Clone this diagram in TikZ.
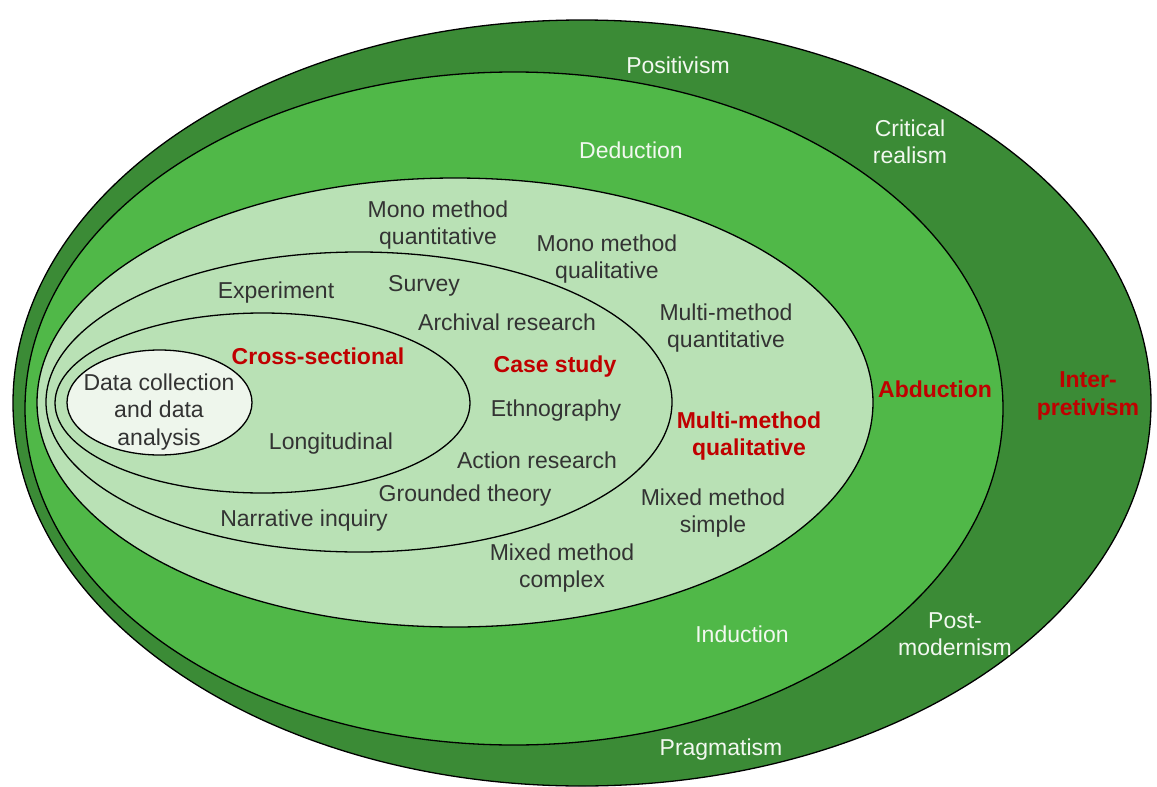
\documentclass[tikz,border=0pt]{standalone}
\usepackage{fontspec}
\setmainfont{Liberation Sans}
\usetikzlibrary{shapes.geometric}
\definecolor{gdark}{HTML}{3B8B36}
\definecolor{gmid}{HTML}{50B848}
\definecolor{glight}{HTML}{B9E1B5}
\definecolor{gpale}{HTML}{EEF6EC}
\definecolor{txtdark}{HTML}{333333}
\definecolor{txtwhite}{HTML}{F2F8F0}
\definecolor{txtred}{HTML}{C00000}
\tikzset{
  layer/.style={ellipse, draw=black, line width=1.3pt, inner sep=0pt},
  lbl/.style={font=\fontsize{23}{27.5}\selectfont, align=center, inner sep=0pt, text=txtdark, yshift=-3pt},
  wlbl/.style={lbl, text=txtwhite},
  rlbl/.style={lbl, text=txtred, font=\fontsize{23}{27.5}\selectfont\bfseries},
}
\begin{document}
\begin{tikzpicture}[x=1pt,y=-1pt]
\useasboundingbox (0,0) rectangle (1157,787);
\node[layer, fill=gdark, minimum width=1138pt, minimum height=766pt] (philo) at (582,403) {};
\node[layer, fill=gmid, minimum width=978pt, minimum height=673pt] (appr) at (514,408.5) {};
\node[layer, fill=glight, minimum width=836pt, minimum height=449pt] (choice) at (455,402.5) {};
\node[layer, fill=glight, minimum width=626pt, minimum height=300pt] (strat) at (359,402) {};
\node[layer, fill=glight, minimum width=415pt, minimum height=180pt] (time) at (262.5,403) {};
\node[layer, fill=gpale, minimum width=185pt, minimum height=105pt] (data) at (159.5,402.5) {};

\node[lbl] (t1) at (159,409) {Data collection\\and data\\analysis};
\node[wlbl] (t2) at (678,62) {Positivism};
\node[wlbl] (t3) at (910,139) {Critical\\realism};
\node[wlbl] (t4) at (631,147) {Deduction};
\node[lbl] (t5) at (438,222) {Mono method\\quantitative};
\node[lbl] (t6) at (607,256) {Mono method\\qualitative};
\node[lbl] (t7) at (276,290) {Experiment};
\node[lbl] (t8) at (424,283) {Survey};
\node[lbl] (t9) at (507,319) {Archival research};
\node[lbl] (t10) at (726,325) {Multi-method\\quantitative};
\node[rlbl] (t11) at (318,353) {Cross-sectional};
\node[rlbl] (t12) at (555,364) {Case study};
\node[lbl] (t13) at (556,408) {Ethnography};
\node[rlbl] (t14) at (935,386) {Abduction};
\node[rlbl] (t15) at (1088,393) {Inter-\\pretivism};
\node[rlbl] (t16) at (749,433) {Multi-method\\qualitative};
\node[lbl] (t17) at (331,441) {Longitudinal};
\node[lbl] (t18) at (537,457) {Action research};
\node[lbl] (t19) at (465,493) {Grounded theory};
\node[lbl] (t20) at (304,518) {Narrative inquiry};
\node[lbl] (t21) at (713,510) {Mixed method\\simple};
\node[lbl] (t22) at (562,565) {Mixed method\\complex};
\node[wlbl] (t23) at (742,631) {Induction};
\node[wlbl] (t24) at (955,631) {Post-\\modernism};
\node[wlbl] (t25) at (721,747) {Pragmatism};
\end{tikzpicture}
\end{document}
